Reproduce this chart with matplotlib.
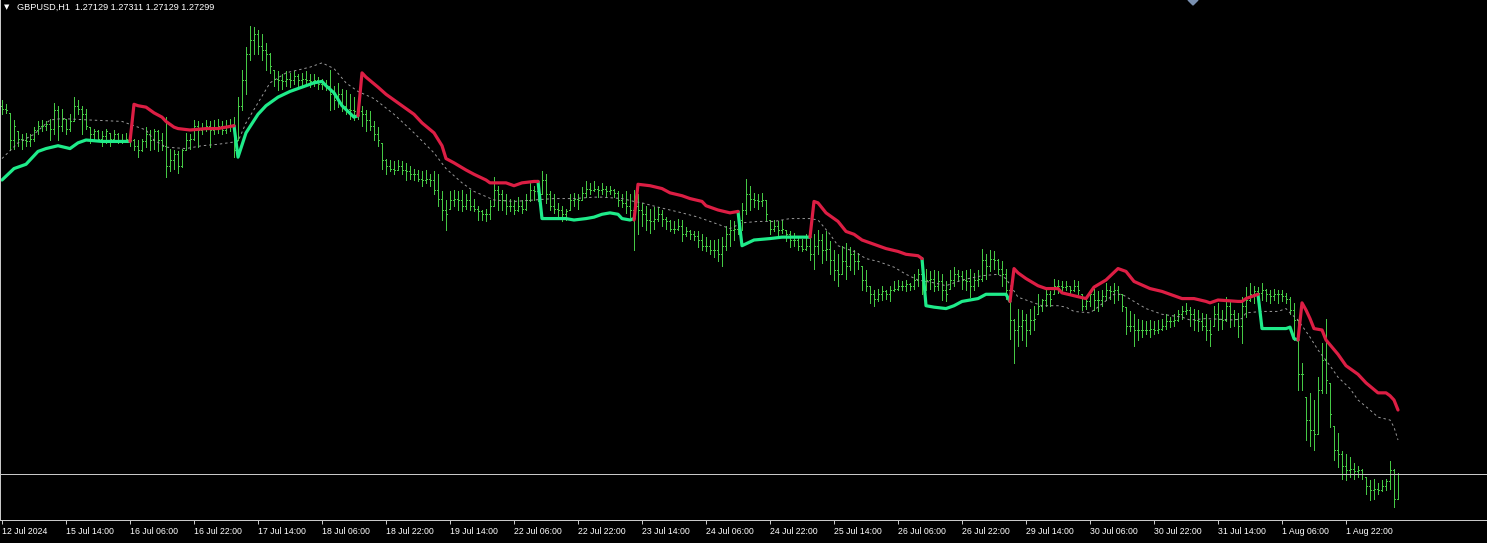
import numpy as np
import matplotlib.pyplot as plt

# prices are stored as pips above BASE
BASE = 1.2700
PIP = 0.0001

bar_high = [
    292, 289, 283, 278, 270, 268, 269, 268, 273, 277,
    278, 277, 279, 290, 288, 286, 279, 282, 294, 292,
    288, 286, 273, 272, 271, 270, 272, 269, 271, 269,
    268, 269, 268, 265, 264, 265, 273, 271, 272, 271,
    269, 280, 258, 257, 256, 258, 269, 268, 278, 277,
    276, 278, 277, 278, 279, 277, 278, 279, 280, 294,
    313, 329, 344, 343, 341, 338, 332, 325, 313, 312,
    310, 312, 311, 312, 310, 311, 312, 310, 310, 308,
    307, 306, 313, 302, 304, 300, 299, 296, 294, 292,
    288, 285, 284, 277, 273, 262, 251, 250, 249, 250,
    249, 248, 246, 244, 243, 242, 243, 240, 242, 240,
    228, 222, 228, 229, 228, 229, 226, 229, 223, 218,
    215, 216, 222, 238, 232, 229, 226, 223, 222, 224,
    222, 226, 234, 232, 230, 242, 240, 228, 226, 220,
    218, 216, 226, 227, 226, 231, 235, 234, 235, 232,
    234, 232, 232, 230, 228, 226, 228, 226, 229, 226,
    220, 218, 216, 217, 217, 215, 210, 208, 207, 209,
    208, 203, 201, 200, 200, 198, 196, 194, 194, 195,
    196, 204, 208, 207, 212, 220, 237, 232, 227, 226,
    227, 222, 208, 208, 207, 208, 201, 200, 199, 196,
    195, 198, 198, 198, 201, 198, 200, 193, 187, 184,
    190, 192, 189, 187, 185, 176, 173, 162, 159, 160,
    162, 159, 162, 165, 166, 165, 166, 164, 170, 174,
    173, 174, 172, 173, 172, 170, 165, 173, 175, 173,
    172, 173, 174, 171, 173, 188, 184, 187, 186, 181,
    179, 174, 159, 139, 146, 145, 142, 146, 148, 156,
    153, 159, 158, 167, 166, 165, 165, 162, 166, 165,
    156, 153, 159, 160, 158, 159, 164, 162, 164, 162,
    156, 147, 144, 142, 139, 138, 137, 138, 137, 138,
    139, 142, 140, 142, 145, 148, 150, 147, 146, 145,
    143, 142, 138, 148, 150, 145, 154, 152, 145, 143,
    154, 161, 164, 162, 161, 164, 160, 159, 160, 159,
    159, 157, 154, 150, 138, 108, 84, 87, 82, 98,
    122, 139, 94, 64, 59, 46, 44, 42, 38, 36,
    34, 28, 26, 27, 24, 26, 27, 39, 34, 31.1,
]
bar_low = [
    282, 283, 257, 258, 260, 258, 260, 260, 263, 268,
    270, 271, 264, 268, 264, 270, 268, 270, 277, 282,
    268, 272, 262, 264, 263, 260, 262, 260, 263, 262,
    262, 263, 260, 257, 252, 256, 259, 257, 258, 256,
    257, 238, 242, 244, 241, 245, 257, 258, 264, 259,
    268, 270, 259, 268, 269, 268, 269, 270, 252, 264,
    285, 296, 320, 324, 324, 320, 313, 311, 302, 299,
    300, 302, 301, 303, 302, 302, 302, 301, 302, 300,
    300, 299, 285, 286, 287, 284, 282, 279, 278, 279,
    274, 270, 271, 264, 260, 244, 240, 242, 240, 243,
    240, 236, 237, 236, 235, 232, 234, 232, 226, 218,
    208, 201, 216, 218, 215, 214, 216, 215, 214, 208,
    208, 207, 209, 218, 215, 215, 212, 214, 212, 214,
    213, 215, 221, 222, 221, 226, 220, 215, 213, 209,
    207, 208, 215, 218, 216, 222, 224, 226, 228, 224,
    226, 224, 226, 224, 218, 217, 213, 210, 187, 198,
    204, 201, 199, 202, 207, 204, 202, 200, 199, 201,
    193, 197, 195, 194, 189, 187, 186, 184, 182, 179,
    176, 187, 190, 194, 198, 201, 212, 215, 217, 216,
    218, 208, 198, 200, 196, 199, 193, 189, 190, 187,
    186, 187, 180, 174, 184, 178, 180, 170, 166, 162,
    170, 167, 173, 170, 174, 159, 158, 150, 148, 151,
    152, 153, 151, 158, 159, 159, 158, 159, 160, 162,
    156, 159, 160, 158, 159, 152, 151, 160, 162, 165,
    160, 159, 154, 159, 162, 165, 167, 172, 174, 170,
    162, 153, 125, 108, 120, 124, 120, 128, 131, 142,
    144, 148, 148, 156, 157, 158, 159, 156, 158, 156,
    145, 146, 148, 145, 144, 148, 152, 153, 150, 152,
    144, 128, 130, 120, 124, 126, 128, 126, 128, 129,
    131, 132, 133, 134, 137, 139, 142, 134, 131, 130,
    131, 124, 120, 134, 131, 132, 137, 133, 134, 126,
    122, 140, 151, 150, 152, 152, 151, 150, 152, 150,
    151, 150, 142, 124, 89, 89, 54, 50, 47, 58,
    87, 87, 63, 40, 35, 27, 26, 28, 27, 28,
    27, 16, 12, 13, 16, 18, 19, 20, 7, 12.9,
]
bar_close = [
    286, 285, 264, 274, 265, 264, 263, 265, 271, 274,
    274, 275, 272, 285, 274, 279, 272, 277, 288, 286,
    282, 274, 268, 270, 265, 267, 270, 265, 268, 264,
    264, 265, 264, 260, 257, 263, 268, 264, 270, 264,
    260, 246, 250, 254, 246, 257, 264, 265, 274, 271,
    272, 274, 271, 272, 274, 271, 274, 274, 257, 288,
    306, 324, 334, 338, 330, 327, 324, 316, 307, 306,
    305, 307, 306, 309, 306, 307, 306, 305, 306, 303,
    303, 302, 296, 292, 296, 288, 286, 285, 284, 284,
    282, 278, 274, 268, 264, 250, 246, 244, 243, 246,
    243, 242, 240, 240, 237, 236, 237, 236, 229, 223,
    215, 212, 222, 223, 222, 218, 222, 218, 216, 214,
    212, 212, 218, 229, 226, 222, 218, 218, 215, 218,
    216, 222, 229, 228, 226, 236, 226, 218, 216, 215,
    212, 214, 222, 223, 222, 227, 230, 229, 230, 229,
    230, 228, 229, 227, 222, 220, 218, 215, 218, 215,
    212, 208, 207, 209, 212, 209, 207, 202, 202, 204,
    198, 200, 198, 197, 194, 190, 190, 187, 187, 184,
    190, 198, 201, 202, 208, 215, 226, 223, 222, 221,
    222, 212, 202, 204, 201, 202, 198, 194, 194, 190,
    188, 190, 184, 190, 194, 187, 188, 180, 173, 170,
    179, 176, 184, 179, 179, 166, 162, 156, 153, 156,
    158, 156, 159, 160, 162, 162, 163, 162, 166, 170,
    165, 166, 167, 162, 165, 159, 156, 166, 170, 169,
    166, 165, 162, 166, 167, 180, 176, 181, 180, 174,
    170, 159, 138, 131, 134, 138, 131, 138, 139, 148,
    152, 156, 153, 162, 162, 161, 162, 159, 162, 159,
    148, 151, 156, 152, 152, 155, 159, 158, 159, 156,
    148, 134, 134, 131, 131, 131, 131, 132, 131, 132,
    134, 137, 137, 138, 142, 144, 145, 142, 138, 137,
    134, 131, 128, 142, 139, 138, 148, 142, 139, 134,
    148, 152, 156, 158, 157, 159, 156, 155, 156, 156,
    155, 153, 145, 138, 100, 100, 68, 61, 58, 89,
    110, 96, 72, 47, 44, 36, 33, 34, 32, 33,
    30, 22, 19, 20, 19, 22, 25, 33, 12.9, 29.9,
]
first_open = 288

date_labels = [
    "12 Jul 2024", "15 Jul 14:00", "16 Jul 06:00", "16 Jul 22:00", "17 Jul 14:00",
    "18 Jul 06:00", "18 Jul 22:00", "19 Jul 14:00", "22 Jul 06:00", "22 Jul 22:00",
    "23 Jul 14:00", "24 Jul 06:00", "24 Jul 22:00", "25 Jul 14:00", "26 Jul 06:00",
    "26 Jul 22:00", "29 Jul 14:00", "30 Jul 06:00", "30 Jul 22:00", "31 Jul 14:00",
    "1 Aug 06:00", "1 Aug 22:00",
]
bars_per_label = 16

# trailing band: runs of (bar index, pips)
buy_runs = [
    ([0, 3, 6, 9, 11, 14, 17, 19, 21, 25, 29, 32],
     [236, 244, 247, 256, 258, 260, 258, 262, 264, 263, 263, 263]),
    ([58, 59, 61, 64, 66, 69, 72, 75, 78, 80, 81, 83, 85, 88, 89],
     [274, 252, 269, 282, 288, 294, 298, 301, 304, 305, 302, 297, 288, 280, 281]),
    ([134, 135, 138, 141, 143, 146, 148, 150, 152, 154, 155, 157, 158],
     [235, 209, 209, 209, 208, 209, 210, 212, 213, 212, 209, 208, 209]),
    ([184, 185, 188, 192, 195, 198, 201, 202],
     [214, 190, 194, 195, 196, 196, 196, 196]),
    ([230, 231, 233, 236, 238, 240, 244, 246, 249, 251, 252],
     [181, 148, 147, 146, 148, 151, 153, 156, 156, 156, 151]),
    ([314, 315, 318, 321, 322, 323, 324],
     [156, 132, 132, 132, 133, 125, 124]),
]
sell_runs = [
    ([32, 33, 34, 36, 38, 40, 41, 43, 44, 47, 51, 54, 56, 58],
     [263, 289, 288, 287, 283, 280, 277, 273, 272, 271, 272, 272, 273, 274]),
    ([89, 90, 91, 94, 96, 99, 101, 103, 105, 108, 110, 111, 113, 116, 118, 121,
      122, 126, 128, 130, 133, 134],
     [281, 311, 308, 301, 296, 290, 286, 282, 276, 269, 260, 251, 248, 243, 240, 236,
      234, 234, 232, 234, 235, 235]),
    ([158, 159, 162, 165, 167, 170, 172, 175, 176, 177, 179, 182, 184],
     [208, 233, 232, 230, 227, 225, 223, 221, 218, 217, 215, 213, 214]),
    ([202, 203, 204, 206, 209, 211, 213, 215, 218, 221, 224, 226, 229, 230],
     [196, 221, 220, 213, 207, 200, 198, 194, 191, 188, 186, 184, 183, 181]),
    ([252, 253, 254, 256, 259, 261, 264, 265, 268, 271, 273, 276, 279, 281, 283,
      287, 290, 295, 298, 301, 302, 304, 309, 310, 311, 314],
     [151, 174, 171, 167, 162, 160, 160, 157, 155, 153, 161, 166, 174, 172, 165,
      160, 158, 153, 153, 151, 150, 152, 151, 151, 153, 156]),
    ([324, 325, 326, 327, 328, 330, 331, 334, 336, 339, 341, 344, 346, 347, 348, 349],
     [124, 150, 145, 139, 132, 131, 124, 114, 106, 100, 94, 87, 87, 85, 82, 75]),
]

mid_bars = [
    0, 4, 8, 12, 15, 22, 30, 33, 36, 38, 41, 46, 50, 54, 59, 61, 64, 67, 71, 77,
    80, 83, 86, 89, 93, 98, 103, 108, 111, 115, 118, 123, 128, 133, 138, 143, 148, 150, 155, 158,
    160, 164, 167, 170, 174, 177, 182, 185, 189, 193, 197, 202, 204, 207, 209, 213, 216, 219, 223, 226,
    229, 233, 236, 240, 245, 249, 251, 254, 257, 260, 264, 266, 268, 272, 274, 278, 280, 283, 286, 290,
    295, 297, 301, 308, 310, 311, 315, 319, 321, 322, 324, 327, 329, 332, 334, 337, 339, 342, 344, 347,
    348, 349,
]
mid_pips = [
    251, 262, 268, 278, 279, 278, 277, 274, 271, 264, 259, 258, 260, 261, 263, 276, 290, 304, 311, 315,
    318, 314, 304, 298, 293, 282, 269, 255, 244, 234, 228, 222, 221, 222, 223, 223, 224, 224, 223, 221,
    220, 217, 215, 213, 210, 207, 202, 206, 207, 207, 209, 209, 208, 198, 190, 186, 181, 179, 175, 170,
    166, 164, 162, 166, 169, 170, 167, 154, 151, 148, 148, 147, 144, 143, 147, 156, 156, 151, 146, 142,
    140, 138, 139, 138, 139, 143, 144, 144, 146, 143, 138, 126, 117, 106, 98, 90, 82, 75, 70, 68,
    63, 54,
]


def px(p):
    return BASE + np.asarray(p, dtype=float) * PIP


BAR = "#45C845"
SELL = "#DC1E44"
BUY = "#1FEB8A"
PX = 72 / 100  # one pixel in points

fig = plt.figure(figsize=(14.87, 5.43), dpi=100, facecolor="black")
ax = fig.add_axes([0, 23 / 543, 1, 520 / 543])
ax.set_facecolor("black")

x = np.arange(len(bar_close))
hi, lo, cl = px(bar_high), px(bar_low), px(bar_close)
op = np.clip(np.r_[px(first_open), cl[:-1]], lo, hi)

ax.vlines(x, lo, hi, colors=BAR, lw=PX, antialiased=False)
ax.hlines(op, x - 0.3, x, colors=BAR, lw=PX, antialiased=False)
ax.hlines(cl, x, x + 0.3, colors=BAR, lw=PX, antialiased=False)

ax.plot(mid_bars, px(mid_pips), color="#9A9A9A", lw=0.7, ls=(0, (2.5, 3)))
for bx, bv in buy_runs:
    ax.plot(bx, px(bv), color=BUY, lw=2.3, solid_capstyle="round", solid_joinstyle="round")
for sx, sv in sell_runs:
    ax.plot(sx, px(sv), color=SELL, lw=2.3, solid_capstyle="round", solid_joinstyle="round")

# bid line at last close
ax.axhline(cl[-1], color="#C8C8C8", lw=PX)

ax.set_xlim(-0.5, -0.5 + 1487 / 4)
ax.set_ylim(px(-2), px(362))

ticks = np.arange(len(date_labels)) * bars_per_label
ax.set_xticks(ticks)
ax.set_xticklabels(date_labels, ha="left", fontsize=6.3, color="white",
                   family="Liberation Sans")
ax.tick_params(axis="x", colors="#C8C8C8", length=3, width=PX, pad=2, labelcolor="white")
ax.set_yticks([])
for side in ("top", "right"):
    ax.spines[side].set_visible(False)
for side in ("left", "bottom"):
    ax.spines[side].set_color("#C8C8C8")
    ax.spines[side].set_linewidth(PX)

fig.text(4 / 1487, 1 - 7 / 543, "\u25BC", color="white", fontsize=5, va="center")
fig.text(17 / 1487, 1 - 7 / 543, "GBPUSD,H1  1.27129 1.27311 1.27129 1.27299",
         color="white", fontsize=6.6, va="center", family="Liberation Sans")
fig.patches.append(plt.Polygon([[1188 / 1487, 1.0], [1193 / 1487, 1 - 5 / 543],
                                [1198 / 1487, 1.0]], closed=True, color="#7A90B0",
                               transform=fig.transFigure, figure=fig))

fig.savefig("out.png", dpi=100, facecolor="black")
